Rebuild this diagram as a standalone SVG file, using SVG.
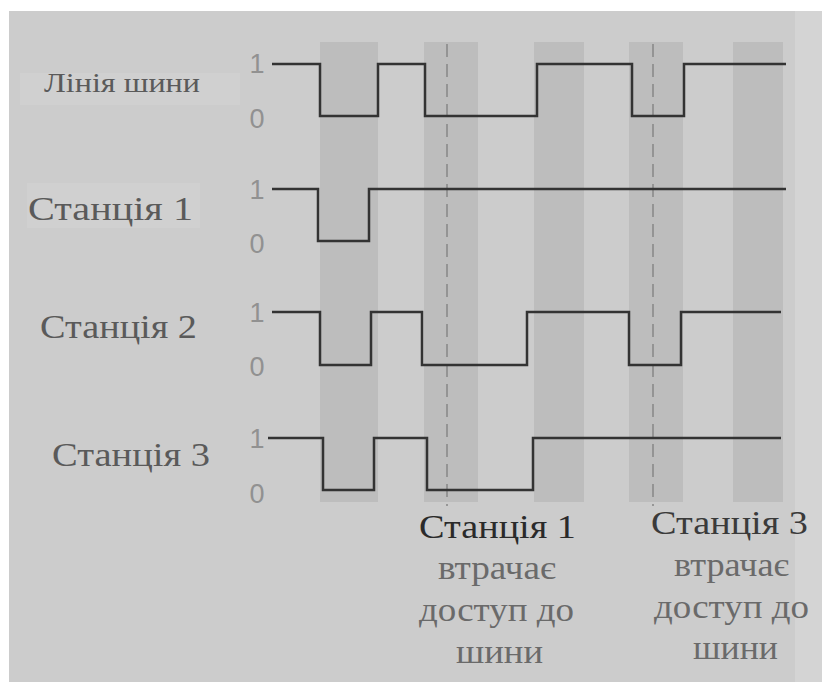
<svg xmlns="http://www.w3.org/2000/svg" width="822" height="682" viewBox="0 0 822 682">
  <style>
    .band { fill: #bdbdbd; }
    .wave { fill: none; stroke: #333; stroke-width: 2.5; stroke-linejoin: miter; }
    .mark { stroke: #8a8a8a; stroke-width: 1.6; stroke-dasharray: 13 7; fill: none; }
    .lvl { font-family: "Liberation Sans", Arial, sans-serif; font-size: 27px; fill: #919191; text-anchor: middle; }
    .name { font-family: "Liberation Serif", "DejaVu Serif", serif; font-size: 33px; fill: #5a5a5a; }
    .note { font-family: "Liberation Serif", "DejaVu Serif", serif; font-size: 33px; fill: #6a6a6a; }
    .head { fill: #2a2a2a; }
  </style>

  <!-- page -->
  <rect x="0" y="0" width="822" height="682" fill="#ffffff"/>
  <rect x="9" y="11" width="813" height="671" fill="#cccccc"/>
  <rect x="795" y="11" width="27" height="671" fill="#d4d4d4"/>

  <!-- lighter strips behind row names -->
  <rect x="20" y="73" width="220" height="32" fill="#d0d0d0"/>
  <rect x="27" y="183" width="173" height="45" fill="#d0d0d0"/>

  <!-- time slot bands -->
  <g id="bands">
    <rect class="band" x="320" y="42" width="58" height="460"/>
    <rect class="band" x="424" y="42" width="54" height="460"/>
    <rect class="band" x="534" y="42" width="50" height="460"/>
    <rect class="band" x="629" y="42" width="54" height="460"/>
    <rect class="band" x="733" y="42" width="50" height="460"/>
  </g>

  <!-- moments of losing the bus -->
  <g id="connectors">
    <line class="mark" x1="447" y1="44" x2="447" y2="506"/>
    <line class="mark" x1="653" y1="44" x2="653" y2="506"/>
  </g>

  <g id="bus-line">
    <text class="name" x="44" y="92" style="font-size:27px" textLength="156" lengthAdjust="spacingAndGlyphs">Лінія шини</text>
    <text class="lvl" x="257" y="73">1</text>
    <text class="lvl" x="257" y="128">0</text>
    <path class="wave" d="M272 64 H320 V116 H378 V64 H425 V116 H537 V64 H632 V116 H684 V64 H786"/>
  </g>

  <g id="station-1">
    <text class="name" x="28" y="220" textLength="165" lengthAdjust="spacingAndGlyphs">Станція  1</text>
    <text class="lvl" x="257" y="199">1</text>
    <text class="lvl" x="257" y="253">0</text>
    <path class="wave" d="M272 189 H318 V241 H369 V189 H786"/>
  </g>

  <g id="station-2">
    <text class="name" x="40" y="338" textLength="157" lengthAdjust="spacingAndGlyphs">Станція  2</text>
    <text class="lvl" x="257" y="322">1</text>
    <text class="lvl" x="257" y="376">0</text>
    <path class="wave" d="M272 312 H320 V365 H371 V312 H422 V365 H527 V312 H629 V365 H681 V312 H781"/>
  </g>

  <g id="station-3">
    <text class="name" x="52" y="466" textLength="158" lengthAdjust="spacingAndGlyphs">Станція  3</text>
    <text class="lvl" x="257" y="448">1</text>
    <text class="lvl" x="257" y="503">0</text>
    <path class="wave" d="M268 438 H323 V490 H374 V438 H427 V490 H533 V438 H781"/>
  </g>

  <g id="note-station-1">
    <text class="note head" x="419" y="538" textLength="157" lengthAdjust="spacingAndGlyphs">Станція  1</text>
    <text class="note" x="438" y="579" textLength="118" lengthAdjust="spacingAndGlyphs">втрачає</text>
    <text class="note" x="419" y="621" textLength="155" lengthAdjust="spacingAndGlyphs">доступ до</text>
    <text class="note" x="456" y="663" textLength="87" lengthAdjust="spacingAndGlyphs">шини</text>
  </g>

  <g id="note-station-3">
    <text class="note" x="651" y="534" style="fill:#3a3a3a" textLength="157" lengthAdjust="spacingAndGlyphs">Станція 3</text>
    <text class="note" x="674" y="576" textLength="115" lengthAdjust="spacingAndGlyphs">втрачає</text>
    <text class="note" x="654" y="618" textLength="155" lengthAdjust="spacingAndGlyphs">доступ до</text>
    <text class="note" x="693" y="659" textLength="85" lengthAdjust="spacingAndGlyphs">шини</text>
  </g>
</svg>
